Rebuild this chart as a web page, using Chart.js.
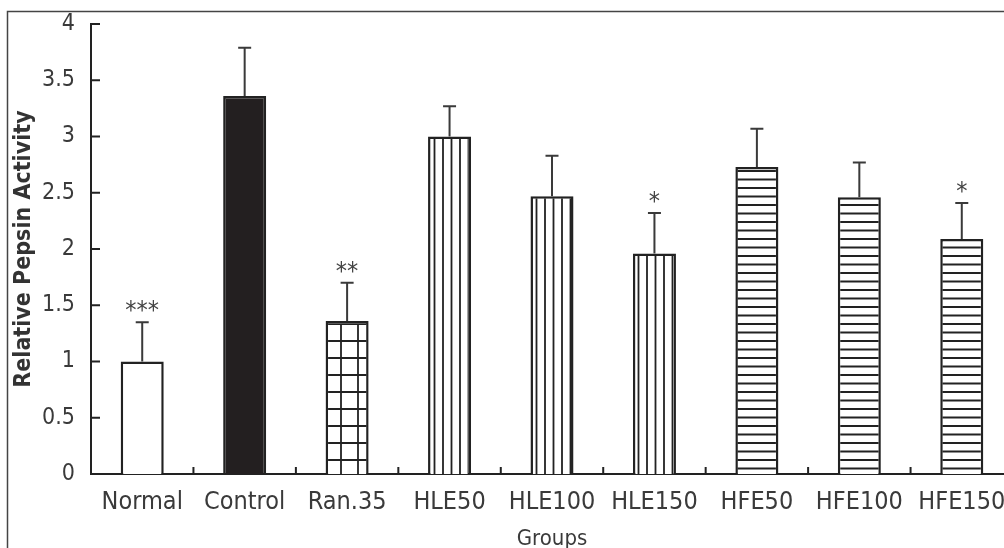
<!DOCTYPE html>
<html>
<head>
<meta charset="utf-8">
<script src="https://cdn.jsdelivr.net/npm/chart.js@4"></script>
<style>
  body { margin: 0; overflow: hidden; background: #fff; }
  #wrap { width: 1020px; height: 552px; }
</style>
</head>
<body>
<div id="wrap"><canvas id="chart" width="1020" height="552"></canvas></div>
<script>
let groups = ['Normal', 'Control', 'Ran.35', 'HLE50', 'HLE100', 'HLE150', 'HFE50', 'HFE100', 'HFE150']
let activity = [1.0, 3.36, 1.36, 3.0, 2.47, 1.96, 2.73, 2.46, 2.09]
let sd = [0.35, 0.43, 0.34, 0.27, 0.36, 0.36, 0.34, 0.31, 0.32]
let stars = ['***', '', '**', '', '', '*', '', '', '*']
let fills = ['none', 'solid', 'grid', 'vert', 'vert', 'vert', 'horz', 'horz', 'horz']

const ink = '#222'
const textColor = '#3a3a3a'
const font = "'DejaVu Sans Condensed', 'Liberation Sans Narrow', sans-serif"

function makePattern(kind) {
    if (kind == 'none') return '#fff'
    if (kind == 'solid') return '#231f20'
    let size = 17
    let c = document.createElement('canvas')
    c.width = size
    c.height = size
    let g = c.getContext('2d')
    g.fillStyle = '#fff'
    g.fillRect(0, 0, size, size)
    g.strokeStyle = ink
    g.lineWidth = 1.8
    g.beginPath()
    if (kind == 'vert') {
        g.moveTo(1, 0); g.lineTo(1, size)
        g.moveTo(9.5, 0); g.lineTo(9.5, size)
    } else if (kind == 'horz') {
        g.moveTo(0, 1); g.lineTo(size, 1)
        g.moveTo(0, 9.5); g.lineTo(size, 9.5)
    } else {
        g.moveTo(1, 0); g.lineTo(1, size)
        g.moveTo(0, 1); g.lineTo(size, 1)
    }
    g.stroke()
    return g.createPattern(c, 'repeat')
}

let colors = []
for (let f of fills) colors.push(makePattern(f))

const decorations = {
    id: 'decorations',
    afterDatasetsDraw(chart) {
        let ctx = chart.ctx
        let x = chart.scales.x
        let y = chart.scales.y
        let meta = chart.getDatasetMeta(0)
        ctx.save()

        // frame around the figure
        ctx.strokeStyle = '#444'
        ctx.lineWidth = 1.5
        ctx.beginPath()
        ctx.moveTo(7.5, 560)
        ctx.lineTo(7.5, 11.5)
        ctx.lineTo(1020, 11.5)
        ctx.stroke()

        // inward ticks
        ctx.strokeStyle = ink
        ctx.lineWidth = 2
        ctx.beginPath()
        for (let t of y.ticks) {
            let py = y.getPixelForValue(t.value)
            ctx.moveTo(x.left, py)
            ctx.lineTo(x.left + 9, py)
        }
        for (let i = 1; i < groups.length; i++) {
            let px = (x.getPixelForValue(i - 1) + x.getPixelForValue(i)) / 2
            ctx.moveTo(px, y.bottom)
            ctx.lineTo(px, y.bottom - 7)
        }
        ctx.stroke()

        // error bars and significance marks
        ctx.strokeStyle = '#3a3a3a'
        ctx.lineWidth = 2
        ctx.fillStyle = '#444'
        ctx.font = '25px ' + font
        ctx.textAlign = 'center'
        ctx.textBaseline = 'alphabetic'
        for (let i = 0; i < activity.length; i++) {
            let bx = meta.data[i].x
            let top = y.getPixelForValue(activity[i] + sd[i])
            let base = y.getPixelForValue(activity[i])
            ctx.beginPath()
            ctx.moveTo(bx, base)
            ctx.lineTo(bx, top)
            ctx.moveTo(bx - 6.5, top)
            ctx.lineTo(bx + 6.5, top)
            ctx.stroke()
            if (stars[i]) ctx.fillText(stars[i], bx, top - 4)
        }
        ctx.restore()
    }
}

new Chart(document.getElementById('chart'), {
    type: 'bar',
    data: {
        labels: groups,
        datasets: [{
            data: activity,
            backgroundColor: colors,
            borderColor: ink,
            borderWidth: 2.5,
            barPercentage: 0.42,
            categoryPercentage: 1
        }]
    },
    options: {
        responsive: false,
        animation: false,
        layout: { padding: { top: 24, right: 7, left: 0, bottom: 0 } },
        plugins: {
            legend: { display: false },
            tooltip: { enabled: false }
        },
        scales: {
            x: {
                grid: { display: false },
                border: { display: true, color: ink, width: 2 },
                ticks: { color: textColor, font: { family: font, size: 25 }, padding: 5, maxRotation: 0, autoSkip: false },
                title: { display: true, text: 'Groups', color: textColor, font: { family: font, size: 22 }, padding: { top: 4, bottom: 0 } },
                afterFit: (scale) => { scale.height = 78 }
            },
            y: {
                min: 0,
                max: 4,
                grid: { display: false },
                border: { display: true, color: ink, width: 2 },
                ticks: {
                    stepSize: 0.5,
                    color: textColor,
                    font: { family: font, size: 23 },
                    padding: 8,
                    callback: (value) => String(Number(value.toFixed(1)))
                },
                title: { display: true, text: 'Relative Pepsin Activity', color: '#333', font: { family: font, size: 23, weight: 'bold' }, padding: { top: 10, bottom: 0 } },
                afterFit: (scale) => { scale.width = 91 }
            }
        }
    },
    plugins: [decorations]
})
</script>
</body>
</html>
